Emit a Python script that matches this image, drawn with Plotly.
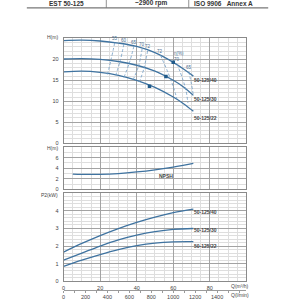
import plotly.graph_objects as go

# ---------------- data ----------------
q_h = [0, 10, 20, 30, 40, 50, 60, 66, 71]
h_40 = [24.5, 24.6, 24.4, 23.9, 23.1, 21.6, 19.3, 17.6, 16.0]
h_30 = [20.1, 20.2, 20.0, 19.5, 18.6, 17.2, 15.0, 13.3, 11.4]
h_22 = [17.0, 17.2, 16.9, 16.2, 15.0, 13.3, 11.0, 9.3, 7.6]

q_p = [0, 10, 20, 30, 40, 50, 60, 71]
p_40 = [1.66, 2.15, 2.6, 3.0, 3.35, 3.65, 3.9, 4.1]
p_30 = [1.2, 1.6, 2.0, 2.35, 2.62, 2.82, 2.95, 3.0]
p_22 = [0.85, 1.2, 1.52, 1.8, 2.02, 2.17, 2.24, 2.25]

q_npsh = [5, 10, 20, 30, 40, 50, 60, 71]
npsh = [2.9, 2.85, 2.85, 3.0, 3.3, 3.7, 4.2, 4.9]

bep_q = [60, 56, 47]
bep_h = [19.3, 15.9, 13.6]

# iso-efficiency lines (left / right branches)
eff_labels = ["55", "60", "65", "70", "72", "72", "70", "65"]
eff_q = [[28, 26, 24], [33, 31, 28.5], [38.5, 36, 33], [43, 41, 38], [46, 44, 41.5],
         [53, 57, 60, 62], [62, 65, 67, 68], [68.5, 70, 71]]
eff_h = [[24.0, 20.0, 16.4], [23.7, 19.7, 16.2], [23.2, 19.2, 15.7], [22.6, 18.4, 15.1], [22.1, 17.9, 14.6],
         [21.0, 17.0, 13.5, 10.6], [19.0, 15.5, 12.5, 9.6], [17.1, 14.0, 11.4]]

models = ["50-125/40", "50-125/30", "50-125/22"]

q_ticks = [0, 20, 40, 60, 80]
lmin_ticks = [0, 200, 400, 600, 800, 1000, 1200, 1400]

# ---------------- styling ----------------
W = H = 300
def py(p):  # pixel (from top) -> paper
    return 1 - p / H
def px(p):
    return p / W

BLUE = "#3f73a0"
DASH = "#6f9cc4"
MAJ = "#a3a3a3"
MIN = "#dedede"
TXT = "#444444"
FONT = "Liberation Sans"

fig = go.Figure()

for hh in [h_40, h_30, h_22]:
    fig.add_trace(go.Scatter(x=q_h, y=hh, mode="lines", line=dict(color=BLUE, width=1.3, shape="spline"),
                             xaxis="x", yaxis="y", showlegend=False))
for qq, hh in zip(eff_q, eff_h):
    fig.add_trace(go.Scatter(x=qq, y=hh, mode="lines", line=dict(color=DASH, width=0.8, dash="3px,2px", shape="spline"),
                             xaxis="x", yaxis="y", showlegend=False))
fig.add_trace(go.Scatter(x=bep_q, y=bep_h, mode="markers", marker=dict(color="#1f5a8a", size=3.5, symbol="square"),
                         xaxis="x", yaxis="y", showlegend=False))

fig.add_trace(go.Scatter(x=q_npsh, y=npsh, mode="lines", line=dict(color=BLUE, width=1.3, shape="spline"),
                         xaxis="x2", yaxis="y2", showlegend=False))

for pp in [p_40, p_30, p_22]:
    fig.add_trace(go.Scatter(x=q_p, y=pp, mode="lines", line=dict(color=BLUE, width=1.3, shape="spline"),
                             xaxis="x3", yaxis="y3", showlegend=False))
# invisible trace on l/min axis
fig.add_trace(go.Scatter(x=[0, 1666.67], y=[None, None], mode="lines", xaxis="x4", yaxis="y3", showlegend=False))

xdom = [px(62), px(246)]
common_x = dict(domain=xdom, range=[0, 100], showgrid=True, gridcolor=MAJ, gridwidth=0.8,
                tickmode="array", tickvals=q_ticks,
                minor=dict(dtick=5, tick0=0, showgrid=True, gridcolor=MIN, gridwidth=0.6),
                showline=True, mirror=True, linecolor="#8a8a8a", linewidth=0.8, zeroline=False, ticks="",
                fixedrange=True)
common_y = dict(showgrid=True, gridcolor=MAJ, gridwidth=0.8, showline=True, mirror=True, linecolor="#8a8a8a",
                linewidth=0.8, zeroline=False, ticks="", tickfont=dict(size=5.5, color=TXT, family=FONT),
                ticklabelstandoff=3, tickmode="array")

fig.update_layout(
    width=W, height=H, margin=dict(l=0, r=0, t=0, b=0), plot_bgcolor="white", paper_bgcolor="white",
    font=dict(family=FONT, color=TXT),
    xaxis=dict(**common_x, anchor="y", showticklabels=False),
    xaxis2=dict(**common_x, anchor="y2", showticklabels=False),
    xaxis3=dict(**common_x, anchor="y3", showticklabels=True,
                tickfont=dict(size=5.5, color=TXT, family=FONT), ticklabelstandoff=1),
    xaxis4=dict(overlaying="x3", anchor="free", position=py(294), side="bottom", range=[0, 1666.67],
                showgrid=False, zeroline=False, showline=True, linecolor="#9a9a9a", linewidth=0.6,
                tickmode="array", tickvals=lmin_ticks, ticks="outside", ticklen=2, tickcolor="#9a9a9a", tickwidth=0.6,
                minor=dict(dtick=100, ticks="outside", ticklen=2, tickcolor="#9a9a9a"),
                tickfont=dict(size=5.5, color=TXT, family=FONT), ticklabelstandoff=0, fixedrange=True),
    yaxis=dict(**common_y, domain=[py(145), py(39)], range=[0, 25], tickvals=[0, 5, 10, 15, 20],
               minor=dict(dtick=1, showgrid=True, gridcolor=MIN, gridwidth=0.6), anchor="x"),
    yaxis2=dict(**common_y, domain=[py(192), py(149)], range=[0, 8], tickvals=[0, 2, 4, 6],
                minor=dict(dtick=1, showgrid=True, gridcolor=MIN, gridwidth=0.6), anchor="x2"),
    yaxis3=dict(**common_y, domain=[py(285), py(196)], range=[0, 5], tickvals=[0, 1, 2, 3, 4],
                minor=dict(dtick=0.2, showgrid=True, gridcolor=MIN, gridwidth=0.6), anchor="x3"),
)

ann = []
def a(text, x, y, xref="paper", yref="paper", size=5.5, bold=False, color=TXT, xanchor="center"):
    ann.append(dict(text=("<b>%s</b>" % text) if bold else text, x=x, y=y, xref=xref, yref=yref,
                    showarrow=False, font=dict(size=size, color=color, family=FONT), xanchor=xanchor,
                    yanchor="middle"))

# header
a("EST 50-125", px(65), py(3.5), size=6.5, bold=True, color="#333")
a("~2900 rpm", px(150), py(3.5), size=6.5, bold=True, color="#333")
a("ISO 9906   Annex A", px(223), py(3.5), size=6.5, bold=True, color="#333")

# axis titles
a("H(m)", px(58), py(37), size=5, xanchor="right")
a("H(m)", px(58), py(150), size=5, xanchor="right")
a("P2(kW)", px(58), py(198), size=5, xanchor="right")
a("Q(m³/h)", px(240), py(290), size=5)
a("Q(l/min)", px(240), py(299), size=5)

# curve labels
for m, hy in zip(models, [15.1, 10.6, 6.1]):
    a(m, 77.5, hy, xref="x", yref="y", size=5, bold=True)
for m, pyv in zip(models, [3.95, 2.9, 2.0]):
    a(m, 77.5, pyv, xref="x3", yref="y3", size=5, bold=True)
a("NPSH", 56, 2.6, xref="x2", yref="y2", size=5, bold=True)

# efficiency labels
for lab, qq, hh in zip(eff_labels, eff_q, eff_h):
    a(lab, qq[0], hh[0] + 0.9, xref="x", yref="y", size=4.5, color="#4a6f90")
a("η(%)", 63, 21.5, xref="x", yref="y", size=4.5, color="#4a6f90")

fig.update_layout(annotations=ann)

shapes = [
    dict(type="line", xref="paper", yref="paper", x0=px(25), x1=px(268), y0=py(8), y1=py(8),
         line=dict(color="#777", width=1.3)),
    dict(type="line", xref="paper", yref="paper", x0=px(105), x1=px(105), y0=py(0), y1=py(8),
         line=dict(color="#777", width=0.8)),
    dict(type="line", xref="paper", yref="paper", x0=px(188), x1=px(188), y0=py(0), y1=py(8),
         line=dict(color="#777", width=0.8)),
]
fig.update_layout(shapes=shapes)

fig.write_html("out.html")
